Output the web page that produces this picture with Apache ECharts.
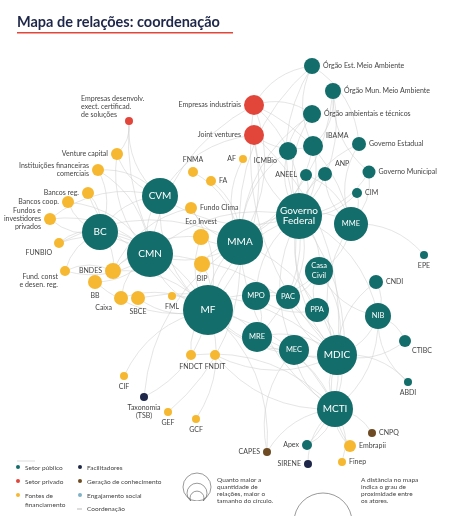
<!DOCTYPE html>
<html><head><meta charset="utf-8">
<script src="https://cdn.jsdelivr.net/npm/echarts@6/dist/echarts.min.js"></script>
<style>html,body{margin:0;padding:0;background:#fff}#c{width:455px;height:516px}</style>
</head><body><div id="c"></div>
<script>
// name, x, y, radius, group, label position
const nodeNames = ["Órgão Est. Meio Ambiente","Órgão Mun. Meio Ambiente","Órgão ambientais e técnicos","IBAMA","ICMBio","Governo Estadual","ANEEL","ANP","Governo Municipal","CIM","Governo\nFederal","MME","EPE","Empresas industriais","Joint ventures","Empresas desenvolv.\nexect. certificad.\nde soluções","AF","FNMA","FA","Fundo Clima","Eco Invest","BIP","MMA","CVM","BC","CMN","Venture capital","Instituições financeiras\ncomerciais","Bancos reg.","Bancos coop.","Fundos e\ninvestidores\nprivados","FUNBIO","BNDES","Fund. const\ne desen. reg.","BB","Caixa","SBCE","FML","MF","MPO","PAC","Casa\nCivil","PPA","NIB","CNDI","CTIBC","MRE","MEC","MDIC","ABDI","MCTI","FNDCT","FNDIT","CIF","Taxonomia\n(TSB)","GEF","GCF","CNPQ","Embrapii","Apex","CAPES","SIRENE","Finep"];
const nodeX = [312,333,312,313,288,359,306,325,369,357,299,351,424,254,254,129,243,193,211,191,201,202,240,160,100,150,117,98,88,68,50,59,113,65,95,121,138,172,208,256,288,319,317,378,376,405,257,294,337,408,335,191,215,124,144,168,196,372,350,307,267,308,342];
const nodeY = [66,91,114,146,151,144,175,174,172,193,216,224,255,105,135,121,159,172,181,208,237,264,242,196,232,254,154,170,193,202,219,243,271,271,282,298,298,296,310,296,297,271,310,316,282,341,337,350,355,382,409,355,355,376,397,412,419,433,446,445,452,464,462];
const nodeR = [8,8,9,10,9,7,6,7,6.5,5,23,17,4,10,10,4,4,5,5,6,8,8,23,18,18,23,6,6,6,6,6,5,8,5,7,7,7,4,25,14,12,14,12,13,7,6,15,15,20,4,18,5,5,4,4,4,4,4,6,5,4,4,4];
const nodeGroup = [0,0,0,0,0,0,0,0,0,0,0,0,0,1,1,1,2,2,2,2,2,2,0,0,0,0,2,2,2,2,2,2,2,2,2,2,2,2,0,0,0,0,0,0,0,0,0,0,0,0,0,2,2,2,3,2,2,4,2,0,4,3,2];
const nodeLabelPos = ["right","right","right","topright","bottomleft","right","left","topright","right","right","inside","inside","bottom","left","left","topleft","left","top","right","right","top","bottom","inside","inside","inside","inside","left","left","left","left","left","bottomleft","left","bottomleft","bottom","bottomleft","bottom","bottom","inside","inside","inside","inside","inside","inside","right","bottomright","inside","inside","inside","bottom","inside","bottom","bottom","bottom","bottom","bottom","bottom","right","right","left","left","left","right"];
const groupColors = ["#126d6b","#e2463b","#f6b830","#1e2749","#6e4b22","#7fb2c9"];
const groupNames = ["Setor público","Setor privado","Fontes de\nfinanciamento","Facilitadores","Geração de conhecimento","Engajamento social"];
const edgePairs = [
["Governo\nFederal","MMA"],["Governo\nFederal","MME"],["Governo\nFederal","MF"],["Governo\nFederal","Casa\nCivil"],["Governo\nFederal","MDIC"],["Governo\nFederal","MCTI"],["Governo\nFederal","IBAMA"],["Governo\nFederal","ICMBio"],["Governo\nFederal","ANEEL"],["Governo\nFederal","ANP"],["Governo\nFederal","CIM"],["Governo\nFederal","Governo Estadual"],["Governo\nFederal","Governo Municipal"],["Governo\nFederal","Órgão Est. Meio Ambiente"],["Governo\nFederal","Órgão Mun. Meio Ambiente"],["Governo\nFederal","Órgão ambientais e técnicos"],["Governo\nFederal","Empresas industriais"],["Governo\nFederal","Joint ventures"],["Governo\nFederal","MPO"],["Governo\nFederal","PAC"],["Governo\nFederal","PPA"],["Governo\nFederal","NIB"],["Governo\nFederal","MEC"],["Governo\nFederal","MRE"],["Governo\nFederal","CMN"],["Governo\nFederal","CVM"],
["MMA","IBAMA"],["MMA","ICMBio"],["MMA","FNMA"],["MMA","Fundo Clima"],["MMA","FA"],["MMA","AF"],["MMA","MF"],["MMA","Eco Invest"],["MMA","BIP"],["MMA","Órgão Est. Meio Ambiente"],["MMA","Órgão Mun. Meio Ambiente"],["MMA","Órgão ambientais e técnicos"],["MMA","MCTI"],["MMA","MDIC"],["MMA","FUNBIO"],["MMA","CMN"],["MMA","Taxonomia\n(TSB)"],["MMA","GEF"],["MMA","Empresas industriais"],
["MF","CMN"],["MF","BC"],["MF","CVM"],["MF","BNDES"],["MF","Eco Invest"],["MF","BIP"],["MF","SBCE"],["MF","FML"],["MF","MPO"],["MF","MDIC"],["MF","MCTI"],["MF","CIF"],["MF","GCF"],["MF","FNDCT"],["MF","Taxonomia\n(TSB)"],["MF","Caixa"],["MF","BB"],["MF","MEC"],["MF","MRE"],["MF","Fundo Clima"],["MF","CAPES"],
["CMN","BC"],["CMN","CVM"],["CMN","BNDES"],["CMN","BB"],["CMN","Caixa"],["CMN","Bancos reg."],["CMN","Bancos coop."],["CMN","Fund. const\ne desen. reg."],["CMN","Instituições financeiras\ncomerciais"],["CMN","Venture capital"],["CMN","Fundos e\ninvestidores\nprivados"],["CMN","MDIC"],["CMN","FUNBIO"],
["BC","CVM"],["BC","Bancos reg."],["BC","Bancos coop."],["BC","Instituições financeiras\ncomerciais"],["BC","Fundos e\ninvestidores\nprivados"],["BC","FUNBIO"],["BC","BNDES"],["BC","Fund. const\ne desen. reg."],
["CVM","Venture capital"],["CVM","Fundos e\ninvestidores\nprivados"],["CVM","Empresas desenvolv.\nexect. certificad.\nde soluções"],["CVM","Instituições financeiras\ncomerciais"],["CVM","Joint ventures"],
["MDIC","NIB"],["MDIC","CNDI"],["MDIC","CTIBC"],["MDIC","ABDI"],["MDIC","MCTI"],["MDIC","Apex"],["MDIC","Embrapii"],["MDIC","Empresas industriais"],["MDIC","Joint ventures"],["MDIC","PAC"],["MDIC","PPA"],["MDIC","MEC"],["MDIC","MRE"],["MDIC","MME"],["MDIC","Casa\nCivil"],["MDIC","FNDIT"],
["MCTI","FNDCT"],["MCTI","CNPQ"],["MCTI","Embrapii"],["MCTI","Finep"],["MCTI","SIRENE"],["MCTI","Apex"],["MCTI","CAPES"],["MCTI","MEC"],["MCTI","NIB"],["MCTI","FNDIT"],["MCTI","MRE"],
["MME","EPE"],["MME","ANEEL"],["MME","ANP"],["MME","CIM"],["MME","Governo Estadual"],["MME","Governo Municipal"],["MME","Casa\nCivil"],["MME","Empresas industriais"],
["Casa\nCivil","PAC"],["Casa\nCivil","PPA"],["Casa\nCivil","MPO"],["Casa\nCivil","NIB"],["MPO","PAC"],["MPO","PPA"],["MPO","MRE"],["MEC","CAPES"],["MEC","MRE"],["NIB","CNDI"],["NIB","CTIBC"],["NIB","ABDI"],
["Empresas industriais","Órgão ambientais e técnicos"],["Joint ventures","IBAMA"],["Empresas industriais","Órgão Est. Meio Ambiente"],["Empresas industriais","CMN"],["Joint ventures","MF"],["Empresas desenvolv.\nexect. certificad.\nde soluções","MF"],
["IBAMA","Órgão Est. Meio Ambiente"],["IBAMA","Órgão Mun. Meio Ambiente"],["ICMBio","Órgão ambientais e técnicos"],["Governo Estadual","Órgão Est. Meio Ambiente"],["Governo Municipal","Órgão Mun. Meio Ambiente"],
["BNDES","Fund. const\ne desen. reg."],["BNDES","Eco Invest"],["Fundo Clima","BNDES"],["SBCE","MDIC"],["Venture capital","Empresas desenvolv.\nexect. certificad.\nde soluções"]
];

function labelCfg(p){
  const base={show:true,fontFamily:'Lato',fontSize:7,color:'#444',lineHeight:8};
  if(p==='inside') return {show:true,position:'inside',color:'#fff',fontFamily:'Lato',fontSize:9,lineHeight:10};
  if(p==='topright') return Object.assign(base,{position:'right',offset:[-2,-10]});
  if(p==='bottomleft') return Object.assign(base,{position:'left',offset:[3,10]});
  if(p==='bottomright') return Object.assign(base,{position:'right',offset:[-4,10]});
  if(p==='topleft') return Object.assign(base,{position:[-44,-22],align:'left'});
  return Object.assign(base,{position:p,distance:3});
}
const data = nodeNames.map((n,i)=>{
  const big = nodeLabelPos[i]==='inside';
  return {name:n,value:[nodeX[i],nodeY[i]],symbolSize:nodeR[i]*2,
    itemStyle:{color:groupColors[nodeGroup[i]]},
    label:Object.assign(labelCfg(nodeLabelPos[i]),big?{fontSize:nodeR[i]>17?10:7.5}:{})};
});
const links = edgePairs.map((e,k)=>({source:e[0],target:e[1],lineStyle:{curveness:(k%2?0.25:-0.25)}}));

const chart = echarts.init(document.getElementById('c'));
const legendItems = [];
const lg = [[18,467,0],[18,481,1],[18,495,2],[80,467,3],[80,481,4],[80,495,5]];
lg.forEach(([x,y,g])=>{
  legendItems.push({type:'circle',shape:{cx:x,cy:y,r:2},style:{fill:groupColors[g]}});
  legendItems.push({type:'text',x:x+7,y:y-4,style:{text:groupNames[g],fontFamily:'Lato',fontSize:6.5,fill:'#444',lineHeight:9}});
});
legendItems.push({type:'line',shape:{x1:77,y1:509,x2:82,y2:509},style:{stroke:'#bbb'}});
legendItems.push({type:'text',x:87,y:505,style:{text:'Coordenação',fontFamily:'Lato',fontSize:6.5,fill:'#444'}});
legendItems.push({type:'line',shape:{x1:17,y1:461,x2:35,y2:461},style:{stroke:'#ddd'}});
[[197,487,14],[197,492,10],[197,496,7]].forEach(([cx,cy,r])=>legendItems.push({type:'circle',shape:{cx:cx,cy:cy+(14-r)*0.3,r:r},style:{fill:'none',stroke:'#555',lineWidth:0.6}}));
legendItems.push({type:'rect',shape:{x:175,y:501,width:45,height:15},style:{fill:'#fff'}});
legendItems.push({type:'text',x:217,y:476,style:{text:'Quanto maior a\nquantidade de\nrelações, maior o\ntamanho do círculo.',fontFamily:'Lato',fontSize:6.5,fill:'#444',lineHeight:7.2}});
legendItems.push({type:'circle',shape:{cx:323,cy:522,r:29},style:{fill:'none',stroke:'#555',lineWidth:0.6}});
legendItems.push({type:'text',x:361,y:476,style:{text:'A distância no mapa\nindica o grau de\nproximidade entre\nos atores.',fontFamily:'Lato',fontSize:6.5,fill:'#444',lineHeight:7.2}});
legendItems.push({type:'text',x:17,y:15,style:{text:'Mapa de relações: coordenação',fontFamily:'Lato',fontWeight:'bold',fontSize:14.5,fill:'#1e2749'}});
legendItems.push({type:'rect',shape:{x:17,y:32,width:216,height:1.5},style:{fill:'#e2463b'}});

chart.setOption({
  animation:false,
  grid:{left:0,right:0,top:0,bottom:0},
  xAxis:{type:'value',min:0,max:455,show:false},
  yAxis:{type:'value',min:0,max:516,inverse:true,show:false},
  graphic:legendItems,
  series:[{type:'graph',coordinateSystem:'cartesian2d',layout:'none',
    data:data,links:links,symbol:'circle',
    lineStyle:{color:'#cfcfcf',width:0.6,opacity:0.9},
    emphasis:{disabled:true},z:2}]
});
</script></body></html>
